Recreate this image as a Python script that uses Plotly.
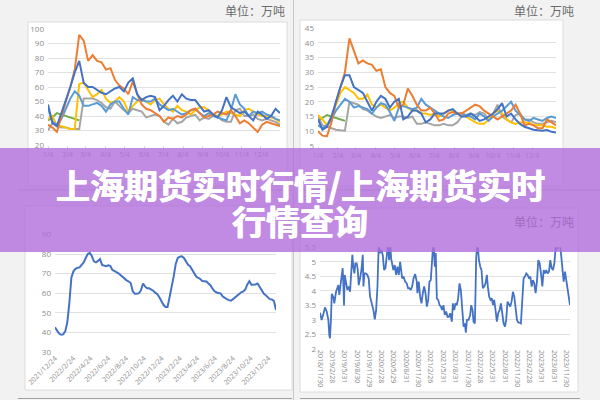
import plotly.graph_objects as go
import pandas as pd

# ---------------- data ----------------
# top-left panel (weekly, 万吨)
tl_orange = [34,32,29,40,50,60,72,96,92,78,82,78,77,72,73,65,61,59,55,64,55,48,45,44,42,40,36,39,38,40,39,41,44,45,42,39,40,41,43,42,41,44,40,35,37,35,32,29,34,36,35,34,33]
tl_blue = [48,35,33,42,50,60,70,78,63,60,60,58,56,55,57,59,60,57,63,66,55,51,53,54,53,44,47,51,54,50,55,52,51,51,47,43,44,41,39,44,53,46,44,42,43,40,37,43,41,38,40,45,42]
tl_lblue = [45,36,34,38,45,52,57,54,47,47,48,49,47,43,48,50,50,45,41,53,51,51,50,50,52,48,46,44,45,43,41,42,44,45,42,40,42,40,39,38,37,44,55,48,45,40,43,42,43,41,40,38,37]
tl_gray = [30,35,33,32,32,31,31,31,52,52,52,51,49,46,45,50,47,44,42,45,44,43,39,40,41,40,36,34,38,35,36,39,40,41,37,39,38,40,40,37,36,36,44,45,40,40,41,38,37,38,37,36,34]
tl_yellow = [38,40,33,33,32,31,31,62,63,58,53,55,58,52,49,50,53,50,43,47,50,52,50,48,51,52,48,45,43,47,44,43,41,44,46,46,44,41,40,41,43,42,41,40,44,45,43,41,40,40,39,38,36]
tl_green = [37,39,42,41,40,39,38,37]

# top-right panel (weekly, 万吨)
tr_orange = [10,8.5,8.3,13,20,25,30,41.5,37,33,34,33,32.5,30.5,31,25,23,22,18,19,24.5,22,19,17,17,18,16,13.5,14,16,16.5,16,16,17,18,19,18.5,17,16,15,14,15,16,17,19,16,12,12.5,12,11,11,14,13,12]
tr_blue = [14,10.5,11.5,15,20,25,29,29,25,24,23,20,17,20,22,21,18,20,21,14,15,17,17,16,13,14,16,16,16,17,17.5,16,15,15,16,15,
           13.5,14,15,16,17.5,19.5,15,16,14,12.5,11.5,11,10.5,10.3,10.2,10.4,9.8,9.6]
tr_lblue = [12,11,12,14,17,19,21,20,18,18.5,18,17.5,16,18,19.5,19,16.5,13.5,18,18.5,18,17.5,18,21,19,18,17,16,15,14.5,15.5,16,16,15.5,15,
            14,16,15,13.5,15,16,17,18.5,20,17,15.5,14,13.5,14.5,14,13.5,14.5,15,14.5]
tr_gray = [15,12,11.5,11,10.5,10.3,10.2,20,19.5,19,17.5,17,16,15,14.5,15,15.5,14.5,15,15,14.5,15,12.5,12.5,13,12.5,12,12,12.5,12,12,13,15,15.5,16,15.5,16.5,16,14,16,19,15,14,13,15.5,16,14,14,13,12.5,12.5,13,13.5,13]
tr_yellow = [15.5,14,12,15,19,23,25,24,23,21,21,22.5,19,18,19,18,17,18,19.5,20,18,17,17,16,16,15.5,16,15,16,17,17,16,16,15,14,13,12.5,12.5,14,16,17,16,14,13,12.5,13,13,13,12,12,12,11.5,11.5,11]
tr_green = [13.5,14.5,15.5,15,14.5,14,13.5]

month_ticks = ["1/4","2/4","3/4","4/4","5/4","6/4","7/4","8/4","9/4","10/4","11/4","12/4"]

# bottom-left panel (weekly from 2021/12/24)
bl_values = [42.6,41,39.4,38.8,39,40.5,45,55,68,71.2,72.5,73,73.2,74.5,75.7,78,80,80.6,79,76.3,75.8,76.5,77.5,74.5,74,73.8,74.3,74,72,71.2,
             70.8,70.2,69.3,68,67.3,66.6,66,65.2,61,59.7,59.7,60,61.5,65,63.5,62.6,62.5,62,61.3,60.3,59.5,58,56,54.1,53,53,58,63,68.6,75,
             78,78.7,78.9,78,76,74.5,73.8,72,70.5,68.5,67.8,67.3,66.2,66,66,65,64,62.3,61,60.4,60.2,59.8,58.3,57.5,57,56.5,56.2,57,58,58.9,
             60,60.5,60.9,62,64.5,66.2,64.4,64.4,64.5,65,63,61.5,59.8,59,58.2,57,56.8,56,51.5]
bl_ticks = ["2021/12/24","2022/2/24","2022/4/24","2022/6/24","2022/8/24","2022/10/24","2022/12/24",
            "2023/2/24","2023/4/24","2023/6/24","2023/8/24","2023/10/24","2023/12/24"]

# bottom-right panel (days after 2018/11/30, value)
br_days = [0,12,25,37,49,62,69,74,82,87,99,106,119,129,136,143,153,161,168,173,178,183,193,203,213,223,228,235,240,247,255,262,272,280,287,297,307,317,322,329,
           339,351,361,371,383,396,406,416,426,435,445,455,465,475,485,495,505,512,520,527,534,544,554,564,574,584,594,601,609,619,631,643,653,663,673,683,693,705,717,722,
           732,742,752,762,772,782,792,802,811,821,831,841,851,858,866,876,886,896,905,915,925,935,945,955,965,977,985,995,1004,1014,1024,1034,1044,1054,1064,1074,1081,1089,1101,1113,
           1121,1131,1138,1148,1158,1168,1178,1188,1197,1207,1217,1227,1237,1244,1254,1264,1274,1282,1291,1301,1311,1321,1331,1341,1351,1361,1371,1380,1390,1400,1410,1420,1430,1440,
           1450,1460,1470,1479,1489,1499,1509,1519,1529,1539,1549,1559,1569,1578,1588,1598,1608,1618,1628,1638,1648,1658,1668,1677,1687,1697,1707,1717,1727,1737,1747,1757,1766,1776,
           1786,1796,1806,1816,1826,1836,1846,1853]
br_values = [3.25,3.0,3.2,3.43,3.3,3.0,2.48,2.37,3.1,3.9,3.78,3.57,3.97,4.15,4.2,3.86,4.3,4.55,4.78,4.26,3.5,4.55,4.2,4.03,4.15,3.97,4.37,4.72,5.24,4.83,4.6,4.95,4.95,4.72,4.2,4.43,4.72,5.24,4.15,4.6,
             4.6,4.55,4.43,3.8,3.57,3.34,3.02,3.34,4.15,5.58,5.3,5.41,5.24,4.72,4.78,5.18,5.64,5.06,5.7,5.12,4.89,4.72,4.89,4.55,4.83,4.55,5.0,4.66,4.43,4.49,4.32,4.26,4.09,4.09,4.03,4.15,4.43,4.58,4.32,3.92,
             4.32,3.8,3.57,3.92,4.15,3.92,3.46,3.69,4.32,4.37,5.3,5.75,4.83,5.3,3.74,3.69,3.51,3.46,3.34,3.51,3.17,3.29,3.11,3.11,3.23,2.94,3.57,3.34,3.57,3.51,3.74,4.26,4.03,3.34,2.77,2.88,2.56,3.0,3.0,3.17,
             3.51,3.34,2.94,2.88,5.18,5.64,5.06,4.83,4.72,4.09,4.15,4.26,4.55,4.15,3.8,3.69,3.74,3.51,3.69,3.34,2.94,3.23,3.34,3.57,3.23,2.88,2.77,3.0,3.63,3.51,3.46,3.63,3.97,3.8,
             3.46,3.0,2.91,2.91,2.88,3.57,4.43,4.49,4.6,4.55,4.43,4.49,4.15,4.37,4.26,3.92,4.32,5.06,4.95,4.6,4.15,4.72,4.6,4.72,4.6,4.66,5.06,4.78,4.72,4.95,5.52,5.41,5.58,5.73,
             5.3,4.72,4.32,4.66,4.32,4.09,3.8,3.51]
br_tick_dates = ["2018-11-30","2019-02-28","2019-05-31","2019-08-30","2019-11-29","2020-02-28","2020-05-29","2020-08-31","2020-11-30",
                 "2021-02-26","2021-05-31","2021-08-31","2021-11-30","2022-02-28","2022-05-31","2022-08-31","2022-11-30",
                 "2023-02-28","2023-05-31","2023-08-31","2023-11-30"]

title_line1 = "上海期货实时行情/上海期货实时"
title_line2 = "行情查询"
unit_text = "单位：万吨"

# ---------------- helpers ----------------
W, H = 600, 400
def px(x): return x / W
def py(y): return 1 - y / H

C_BLUE = "#4472C4"; C_ORANGE = "#ED7D31"; C_GRAY = "#A5A5A5"
C_YELLOW = "#FFC000"; C_LBLUE = "#5B9BD5"; C_GREEN = "#70AD47"

fig = go.Figure()

def add_lines(series, start, xa, ya):
    for vals, col in series:
        xs = pd.date_range(start, periods=len(vals), freq="7D")
        fig.add_trace(go.Scatter(x=xs, y=vals, mode="lines", xaxis=xa, yaxis=ya,
                                 line=dict(color=col, width=2), showlegend=False, hoverinfo="skip"))

add_lines([(tl_gray, C_GRAY), (tl_green, C_GREEN), (tl_yellow, C_YELLOW), (tl_lblue, C_LBLUE),
           (tl_orange, C_ORANGE), (tl_blue, C_BLUE)], "2023-01-04", "x", "y")
add_lines([(tr_gray, C_GRAY), (tr_green, C_GREEN), (tr_yellow, C_YELLOW), (tr_lblue, C_LBLUE),
           (tr_orange, C_ORANGE), (tr_blue, C_BLUE)], "2023-01-04", "x2", "y2")

bl_x = pd.date_range("2021-12-24", periods=len(bl_values), freq="7D")
fig.add_trace(go.Scatter(x=bl_x, y=bl_values, mode="lines", xaxis="x3", yaxis="y3",
                         line=dict(color=C_BLUE, width=2), showlegend=False, hoverinfo="skip"))
br_x = pd.Timestamp("2018-11-30") + pd.to_timedelta(br_days, unit="D")
fig.add_trace(go.Scatter(x=br_x, y=br_values, mode="lines", xaxis="x4", yaxis="y4",
                         line=dict(color=C_BLUE, width=1.8), showlegend=False, hoverinfo="skip"))

tick_font = dict(family="Open Sans, Liberation Sans, sans-serif", size=8, color="#8c8c8c")
grid = "#e1e1e1"

month_vals = pd.date_range("2023-01-01", periods=12, freq="MS") + pd.Timedelta(days=3)

def yax(domain, rng, dtick, anchor):
    return dict(domain=domain, range=rng, dtick=dtick, showgrid=True, gridcolor=grid, gridwidth=1,
                zeroline=False, showline=False, tickfont=tick_font, anchor=anchor, fixedrange=True,
                ticklabelstandoff=3, automargin=False)

layout = dict(
    width=W, height=H, margin=dict(l=0, r=0, t=0, b=0, pad=0, autoexpand=False),
    paper_bgcolor="#f2f2f2", plot_bgcolor="rgba(0,0,0,0)",
    xaxis=dict(domain=[px(48), px(280)], range=["2023-01-04", "2024-01-03"], tickvals=month_vals, ticktext=month_ticks,
               tickangle=0, showgrid=False, zeroline=False, ticks="outside", ticklen=3, tickcolor="#d9d9d9",
               tickfont=dict(tick_font, size=7), anchor="y", automargin=False),
    yaxis=yax([py(145), py(29)], [20, 100], 10, "x"),
    xaxis2=dict(domain=[px(318), px(556)], range=["2023-01-04", "2024-01-10"], tickvals=month_vals, ticktext=month_ticks,
                tickangle=0, showgrid=False, zeroline=False, ticks="outside", ticklen=3, tickcolor="#d9d9d9",
                tickfont=dict(tick_font, size=7), anchor="y2", automargin=False),
    yaxis2=yax([py(146), py(28)], [5, 45], 5, "x2"),
    xaxis3=dict(domain=[px(55), px(276)], range=[bl_x[0], bl_x[-1]],
                tickvals=[pd.Timestamp(t.replace("/", "-")) for t in bl_ticks], ticktext=bl_ticks,
                tickangle=-45, showgrid=False, zeroline=False, tickfont=dict(tick_font, size=7), anchor="y3",
                automargin=False),
    yaxis3=yax([py(352), py(234.5)], [30, 90], 10, "x3"),
    xaxis4=dict(domain=[px(320), px(570)], range=[br_x[0], br_x[-1]],
                tickvals=pd.to_datetime(br_tick_dates),
                ticktext=[f"{d.year}/{d.month}/{d.day}" for d in pd.to_datetime(br_tick_dates)],
                tickangle=90, showgrid=False, zeroline=False, tickfont=dict(tick_font, size=7), anchor="y4",
                automargin=False),
    yaxis4=yax([py(349), py(247.3)], [2, 5.5], 0.5, "x4"),
)
fig.update_layout(**layout)

shapes = []
def rect(x0, y0, x1, y1, fill, line="#dcdcdc", layer="below", lw=1):
    shapes.append(dict(type="rect", xref="paper", yref="paper", x0=px(x0), x1=px(x1), y0=py(y1), y1=py(y0),
                       fillcolor=fill, line=dict(color=line, width=lw), layer=layer))
def hline(x0, x1, y, color="#bdbdbd"):
    shapes.append(dict(type="line", xref="paper", yref="paper", x0=px(x0), x1=px(x1), y0=py(y), y1=py(y),
                       line=dict(color=color, width=1), layer="below"))
def vline(x, y0, y1, color="#c8c8c8"):
    shapes.append(dict(type="line", xref="paper", yref="paper", x0=px(x), x1=px(x), y0=py(y0), y1=py(y1),
                       line=dict(color=color, width=1), layer="below"))

rect(28, 22, 287, 186, "white")
rect(300, 20, 563, 186, "white")
rect(25, 206, 292, 390, "white")
rect(300, 208, 578, 392, "white")
vline(293.5, 0, 400)
hline(18, 292, 190)
hline(300, 600, 190)
hline(18, 292, 398.5, "#a0a0a0")
hline(300, 580, 398.5, "#a0a0a0")
# banner
rect(0, 148, 600, 252, "rgba(178,110,220,0.8)", line="rgba(0,0,0,0)", layer="above", lw=0)
fig.update_layout(shapes=shapes)

ann = []
unit_font = dict(family="Noto Sans CJK SC", size=12, color="#6b6b6b")
ann.append(dict(text=unit_text, x=px(287), y=py(11), xref="paper", yref="paper", xanchor="right", yanchor="middle",
                showarrow=False, font=unit_font))
ann.append(dict(text=unit_text, x=px(576), y=py(11), xref="paper", yref="paper", xanchor="right", yanchor="middle",
                showarrow=False, font=unit_font))
# unit label of the lower-right panel, seen through the banner
ann.append(dict(text=unit_text, x=px(576), y=py(221), xref="paper", yref="paper", xanchor="right", yanchor="middle",
                showarrow=False, font=dict(unit_font, color="rgb(160,106,192)")))
title_font = dict(family="Noto Sans CJK SC", size=34, color="white",
                  shadow="0.5px 0 0 #ffffff, -0.5px 0 0 #ffffff")
ann.append(dict(text=f"<b>{title_line1}</b>", x=0.5, y=py(184), xref="paper", yref="paper", xanchor="center",
                yanchor="middle", showarrow=False, font=title_font))
ann.append(dict(text=f"<b>{title_line2}</b>", x=0.5, y=py(220), xref="paper", yref="paper", xanchor="center",
                yanchor="middle", showarrow=False, font=title_font))
fig.update_layout(annotations=ann)

fig.write_html("out.html", post_script="document.body.style.margin='0';document.body.style.padding='0';")
